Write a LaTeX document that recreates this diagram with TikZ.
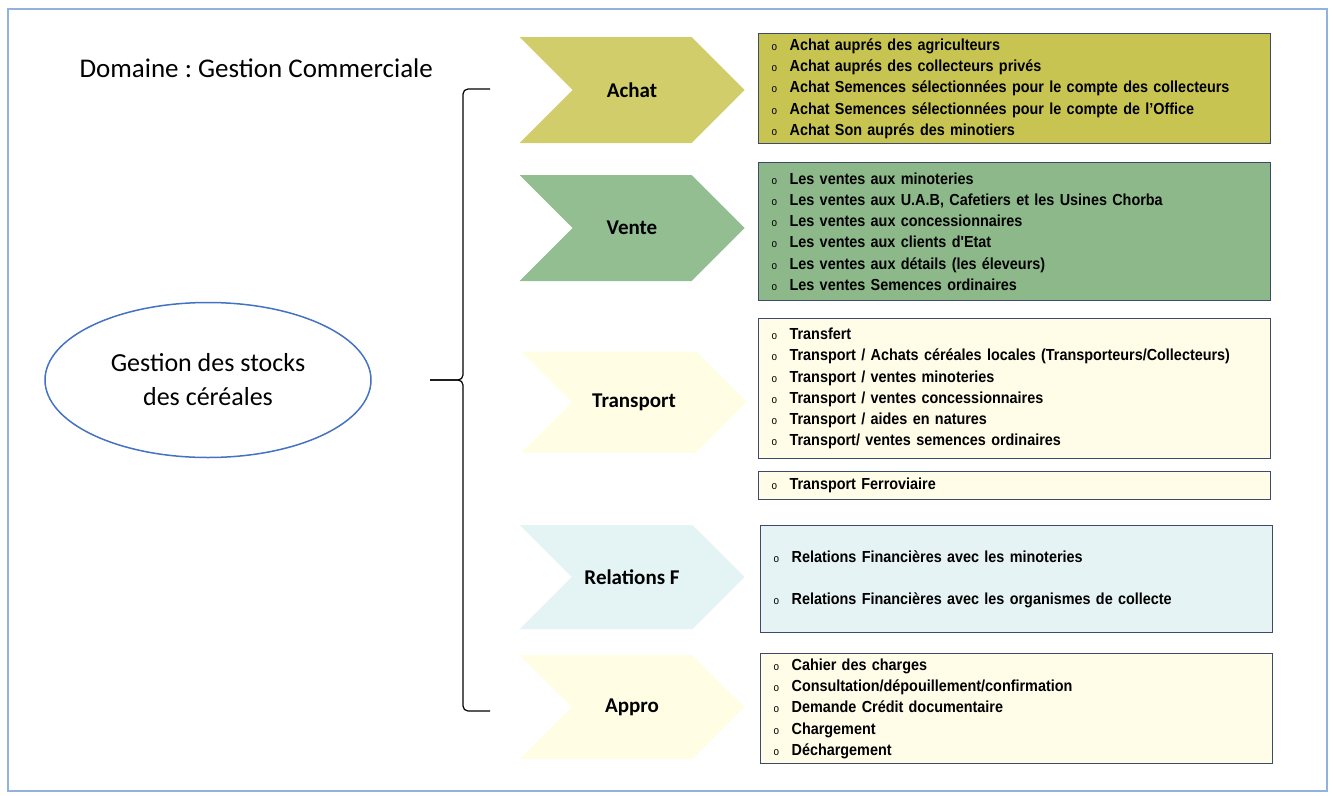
\documentclass[tikz,border=0pt]{standalone}
\usepackage{fontspec}
\setmainfont{Carlito}
\newfontfamily\itemfont[FakeStretch=0.9]{Liberation Sans}
\usetikzlibrary{shapes.geometric,shapes.symbols}
\frenchspacing

\definecolor{framecol}{RGB}{143,178,222}
\definecolor{boxline}{RGB}{62,74,108}
\definecolor{ellblue}{RGB}{68,114,196}
\definecolor{achatbox}{RGB}{200,196,82}
\definecolor{achatarr}{RGB}{208,205,106}
\definecolor{ventebox}{RGB}{141,185,138}
\definecolor{ventearr}{RGB}{146,190,146}
\definecolor{creambox}{RGB}{255,253,232}
\definecolor{creamarr}{RGB}{255,254,228}
\definecolor{relbox}{RGB}{229,243,244}
\definecolor{relarr}{RGB}{228,244,244}

\newcommand\itm[1]{\makebox[18pt][l]{\mdseries\fontsize{11}{11}\selectfont o}#1}

\tikzset{
  stage/.style={signal, signal to=east, signal from=west, signal pointer angle=90,
    minimum width=225pt, minimum height=106pt, inner sep=0pt,
    font=\bfseries\fontsize{21}{24}\selectfont},
  listbox/.style={draw=boxline, line width=1.2pt, text width=486pt, inner xsep=13pt,
    inner ysep=0pt, align=left, anchor=north west,
    font=\itemfont\bfseries\fontsize{16}{21.3}\selectfont},
}

\begin{document}
\begin{tikzpicture}[x=1pt,y=-1pt]
  \useasboundingbox (0,0) rectangle (1333,795);
  \draw[framecol, line width=1.5pt] (8,9) rectangle (1327,791);

  \node[anchor=west, font=\fontsize{27}{30}\selectfont] (domaine) at (76,68) {Domaine : Gestion Commerciale};
  \node[ellipse, draw=ellblue, line width=1.5pt, minimum width=326pt, minimum height=155pt,
    align=center, font=\fontsize{26}{34}\selectfont] (gestion) at (208,380) {Gestion des stocks\\des céréales};

  % accolade
  \coordinate (brtop) at (490,89);
  \coordinate (brbot) at (490,711);
  \coordinate (brmid) at (463,380);
  \coordinate (brtip) at (430,380);
  \draw[line width=1.2pt, rounded corners=5pt] (brtop) -| (brmid) -- (brtip);
  \draw[line width=1.2pt, rounded corners=5pt] (brbot) -| (brmid) -- (brtip);

  % etapes
  \node[stage, fill=achatarr] (achat) at (632,90) {Achat};
  \node[stage, fill=ventearr] (vente) at (632,228) {Vente};
  \node[stage, fill=creamarr, minimum height=101pt] (transport) at (634,402) {Transport};
  \node[stage, fill=relarr, minimum height=104pt] (relations) at (632,577) {Relations F};
  \node[stage, fill=creamarr, minimum height=104pt] (appro) at (632,707) {Appro};

  % listes
  \node[listbox, fill=achatbox, minimum height=110pt] (achatlist) at (758,33) {%
    \itm{Achat auprés des agriculteurs}\\
    \itm{Achat auprés des collecteurs privés}\\
    \itm{Achat Semences sélectionnées pour le compte des collecteurs}\\
    \itm{Achat Semences sélectionnées pour le compte de l’Office}\\
    \itm{Achat Son auprés des minotiers}};
  \node[listbox, fill=ventebox, minimum height=138pt] (ventelist) at (758,162) {%
    \itm{Les ventes aux minoteries}\\
    \itm{Les ventes aux U.A.B, Cafetiers et les Usines Chorba}\\
    \itm{Les ventes aux concessionnaires}\\
    \itm{Les ventes aux clients d'Etat}\\
    \itm{Les ventes aux détails (les éleveurs)}\\
    \itm{Les ventes Semences ordinaires}};
  \node[listbox, fill=creambox, minimum height=140pt] (transportlist) at (758,318) {%
    \itm{Transfert}\\
    \itm{Transport / Achats céréales locales (Transporteurs/Collecteurs)}\\
    \itm{Transport / ventes minoteries}\\
    \itm{Transport / ventes concessionnaires}\\
    \itm{Transport / aides en natures}\\
    \itm{Transport/ ventes semences ordinaires}};
  \node[listbox, fill=creambox, minimum height=28pt] (ferrolist) at (758,471) {%
    \itm{Transport Ferroviaire}};
  \node[listbox, fill=relbox, minimum height=107pt] (relationslist) at (760,525) {%
    \itm{Relations Financières avec les minoteries}\\[21pt]
    \itm{Relations Financières avec les organismes de collecte}};
  \node[listbox, fill=creambox, minimum height=110pt] (approlist) at (760,653) {%
    \itm{Cahier des charges}\\
    \itm{Consultation/dépouillement/confirmation}\\
    \itm{Demande Crédit documentaire}\\
    \itm{Chargement}\\
    \itm{Déchargement}};
\end{tikzpicture}
\end{document}
